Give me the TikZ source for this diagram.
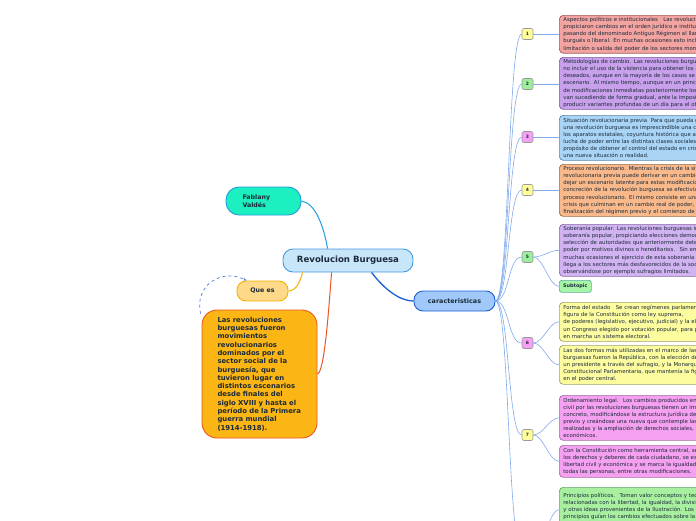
\documentclass[tikz,border=0pt]{standalone}
\usepackage{fontspec}
\setmainfont{DejaVu Sans}
\usetikzlibrary{calc,arrows.meta}
\definecolor{txtdark}{HTML}{1B2A3A}
\definecolor{rbfill}{HTML}{C8E6FA}
\definecolor{rbdraw}{HTML}{4499DD}
\definecolor{fabfill}{HTML}{1DF0C0}
\definecolor{fabdraw}{HTML}{2299DD}
\definecolor{quefill}{HTML}{FFD98A}
\definecolor{quedraw}{HTML}{F5B000}
\definecolor{bigfill}{HTML}{FBB615}
\definecolor{bigdraw}{HTML}{EE5522}
\definecolor{carfill}{HTML}{A0C8F8}
\definecolor{cardraw}{HTML}{1D5FD6}
\definecolor{clin}{HTML}{7FA9EA}
\definecolor{numyel}{HTML}{FFFF99}
\definecolor{numgrn}{HTML}{9CEE9C}
\definecolor{numpnk}{HTML}{F7A0F7}
\definecolor{fA}{HTML}{F4A4A0}\definecolor{dA}{HTML}{A05A55}
\definecolor{fB}{HTML}{C9A0EC}\definecolor{dB}{HTML}{7A5A9A}
\definecolor{fC}{HTML}{A9D4F5}\definecolor{dC}{HTML}{5A88AA}
\definecolor{fD}{HTML}{F9B98A}\definecolor{dD}{HTML}{9A6A40}
\definecolor{fE}{HTML}{D2B3F2}\definecolor{dE}{HTML}{8A6AA0}
\definecolor{fF}{HTML}{FDFDA0}\definecolor{dF}{HTML}{A0A070}
\definecolor{fG}{HTML}{F5A0F0}\definecolor{dG}{HTML}{A070A0}
\definecolor{fH}{HTML}{A8F0A0}\definecolor{dH}{HTML}{70A070}
\definecolor{subf}{HTML}{A8F5A8}\definecolor{subd}{HTML}{55B0A0}
\tikzset{
  topicnode/.style={draw, line width=0.9pt, text=txtdark, font=\bfseries, inner sep=0pt},
  numbox/.style={draw=gray!80, line width=0.6pt, rounded corners=2pt, minimum width=11pt, minimum height=11pt, inner sep=0pt, font=\fontsize{4.5}{5}\selectfont\bfseries, text=txtdark},
  textbox/.style={draw, line width=0.7pt, rounded corners=4pt, anchor=north west, text width=200pt, inner xsep=4pt, inner ysep=2pt, align=left, font=\fontsize{5.4}{7.1}\selectfont, text=txtdark},
  cline/.style={draw=clin, line width=0.6pt},
}
\begin{document}
\begin{tikzpicture}[x=1pt,y=-1pt]
\useasboundingbox (0,0) rectangle (696,520);
\clip (0,0) rectangle (696,520);

% main nodes
\node[topicnode, fill=rbfill, draw=rbdraw, rounded corners=10pt, minimum width=130pt, minimum height=23pt, font=\fontsize{8.6}{10}\selectfont\bfseries] (rb) at (348,260.5) {Revolucion Burguesa};
\node[topicnode, fill=fabfill, draw=fabdraw, rounded corners=13pt, minimum width=75pt, minimum height=28pt, text width=42pt, align=left, font=\fontsize{6.3}{7.6}\selectfont\bfseries] (fab) at (263.5,201) {Fablany\\Valdés};
\node[topicnode, fill=quefill, draw=quedraw, rounded corners=9pt, minimum width=51pt, minimum height=20pt, font=\fontsize{6.3}{7.6}\selectfont\bfseries] (que) at (262.5,291) {Que es};
\node[topicnode, fill=bigfill, draw=bigdraw, rounded corners=15pt, minimum width=115pt, minimum height=128pt, text width=84pt, align=left, font=\fontsize{6.85}{8.3}\selectfont\bfseries] (big) at (259.5,374) {Las revoluciones\\burguesas fueron\\movimientos\\revolucionarios\\dominados por el\\sector social de la\\burguesía, que\\tuvieron lugar en\\distintos escenarios\\desde finales del\\siglo XVIII y hasta el\\período de la Primera\\guerra mundial\\(1914-1918).};
\node[topicnode, fill=carfill, draw=cardraw, rounded corners=9pt, minimum width=81pt, minimum height=20pt, font=\fontsize{6.4}{7.6}\selectfont\bfseries] (car) at (454.5,301) {caracteristicas};

% connectors from central
\draw[draw=fabdraw, line width=1pt] (fab.east) .. controls (316,203) and (324,228) .. ($(rb.north west)+(45,0)$);
\draw[draw=quedraw, line width=1pt] ($(rb.south west)+(20,0)$) .. controls (300,282) and (296,291) .. (que.east);
\draw[draw=bigdraw, line width=1pt] ($(rb.south west)+(49,0)$) .. controls (328,320) and (324,372) .. (big.east);
\draw[draw=cardraw, line width=1.3pt] ($(rb.south west)+(89,0)$) .. controls (385,290) and (400,301) .. (car.west);
\draw[draw=cardraw!80, line width=0.7pt, dashed, -{Stealth[length=3.5pt]}] ($(big.north west)+(-1,4)$) .. controls (194,285) and (222,268) .. ($(que.north west)+(10,0)$);

% numbered boxes
\node[numbox, fill=numyel] (n1) at (527.5,34) {1};
\node[numbox, fill=numgrn] (n2) at (527.5,84) {2};
\node[numbox, fill=numpnk] (n3) at (527.5,137) {3};
\node[numbox, fill=numyel] (n4) at (527.5,190) {4};
\node[numbox, fill=numgrn] (n5) at (527.5,257) {5};
\node[numbox, fill=numpnk] (n6) at (527.5,343) {6};
\node[numbox, fill=numyel] (n7) at (527.5,435) {7};
\node[numbox, fill=numgrn] (n8) at (527.5,550) {8};

\foreach \n in {n1,n2,n3,n4,n5,n6,n7,n8}{
  \draw[cline] (car.east) .. controls +(14,0) and +(-14,0) .. (\n.west);
}

% text boxes
\node[textbox, fill=fA, draw=dA, minimum height=37pt] (b1) at (559,15) {Aspectos políticos e institucionales \ \ Las revoluciones burguesas\\propiciaron cambios en el orden jurídico e institucional\\pasando del denominado Antiguo Régimen al llamado Estado\\burgués o liberal. En muchas ocasiones esto incluyó la\\limitación o salida del poder de los sectores monárquicos.};
\node[textbox, fill=fB, draw=dB, minimum height=52pt] (b2) at (559,57) {Metodologías de cambio. Las revoluciones burguesas podían\\no incluir el uso de la violencia para obtener los cambios\\deseados, aunque en la mayoría de los casos se dio ese\\escenario. Al mismo tiempo, aunque en un principio se trataba\\de modificaciones inmediatas posteriormente los cambios\\van sucediendo de forma gradual, ante la imposibilidad de\\producir variantes profundas de un día para el otro.};
\node[textbox, fill=fC, draw=dC, minimum height=45pt] (b3) at (559,115) {Situación revolucionaria previa \ Para que pueda generarse\\una revolución burguesa es imprescindible una crisis de\\los aparatos estatales, coyuntura histórica que abre una\\lucha de poder entre las distintas clases sociales con el\\propósito de obtener el control del estado en crisis y crear\\una nueva situación o realidad.};
\node[textbox, fill=fD, draw=dD, minimum height=51pt] (b4) at (559,164) {Proceso revolucionario. Mientras la crisis de la situación\\revolucionaria previa puede derivar en un cambio o\\dejar un escenario latente para estas modificaciones, la\\concreción de la revolución burguesa se efectiviza en el\\proceso revolucionario. El mismo consiste en una serie de\\crisis que culminan en un cambio real de poder, con la\\finalización del régimen previo y el comienzo de uno nuevo.};
\node[textbox, fill=fE, draw=dE, minimum height=51pt] (b5) at (559,224) {Soberanía popular. Las revoluciones burguesas instauran la\\soberanía popular, propiciando elecciones democráticas para la\\selección de autoridades que anteriormente detentaban el\\poder por motivos divinos o hereditarios. \ Sin embargo, en\\muchas ocasiones el ejercicio de esta soberanía popular no\\llega a los sectores más desfavorecidos de la sociedad,\\observándose por ejemplo sufragios limitados.};
\node[draw=subd, fill=subf, line width=0.7pt, rounded corners=2.5pt, anchor=north west, minimum width=32pt, minimum height=12pt, inner sep=0pt, font=\fontsize{4.9}{6}\selectfont\bfseries, text=txtdark] (sub) at (559,280) {Subtopic};
\node[textbox, fill=fF, draw=dF, minimum height=39pt] (b6a) at (559,302) {Forma del estado \ \ Se crean regímenes parlamentarios con la\\figura de la Constitución como ley suprema,\\de poderes (legislativo, ejecutivo, judicial) y la elección de\\un Congreso elegido por votación popular, para poner\\en marcha un sistema electoral.};
\node[textbox, fill=fF, draw=dF, minimum height=39pt] (b6b) at (559,345) {Las dos formas más utilizadas en el marco de las revoluciones\\burguesas fueron la República, con la elección de\\un presidente a través del sufragio, y la Monarquía\\Constitucional Parlamentaria, que mantenía la figura del rey\\en el poder central.};
\node[textbox, fill=fG, draw=dG, minimum height=45pt] (b7a) at (559,395) {Ordenamiento legal. \ Los cambios producidos en el orden\\civil por las revoluciones burguesas tienen un impacto\\concreto, modificándose la estructura jurídica del régimen\\previo y creándose una nueva que contemple las reformas\\realizadas y la ampliación de derechos sociales, políticos y\\económicos.};
\node[textbox, fill=fG, draw=dG, minimum height=32pt] (b7b) at (559,445) {Con la Constitución como herramienta central, se establecen\\los derechos y deberes de cada ciudadano, se establece la\\libertad civil y económica y se marca la igualdad ante la ley de\\todas las personas, entre otras modificaciones.};
\node[textbox, fill=fH, draw=dH, minimum height=45pt] (b8) at (559,487) {Principios políticos. \ Toman valor conceptos y teorías\\relacionadas con la libertad, la igualdad, la división de poderes\\y otras ideas provenientes de la Ilustración. Los\\principios guían los cambios efectuados sobre la\\Estado y las estructuras legales.};

% number -> text box connectors
\draw[cline] (n1.east) -- (n1.east -| b1.west);
\draw[cline] (n2.east) -- (n2.east -| b2.west);
\draw[cline] (n3.east) -- (n3.east -| b3.west);
\draw[cline] (n4.east) -- (n4.east -| b4.west);
\foreach \n/\b in {n5/b5, n5/sub, n6/b6a, n6/b6b, n7/b7a, n7/b7b, n8/b8}{
  \draw[cline] (\n.east) .. controls +(10,0) and +(-10,0) .. (\b.west);
}
\end{tikzpicture}
\end{document}
